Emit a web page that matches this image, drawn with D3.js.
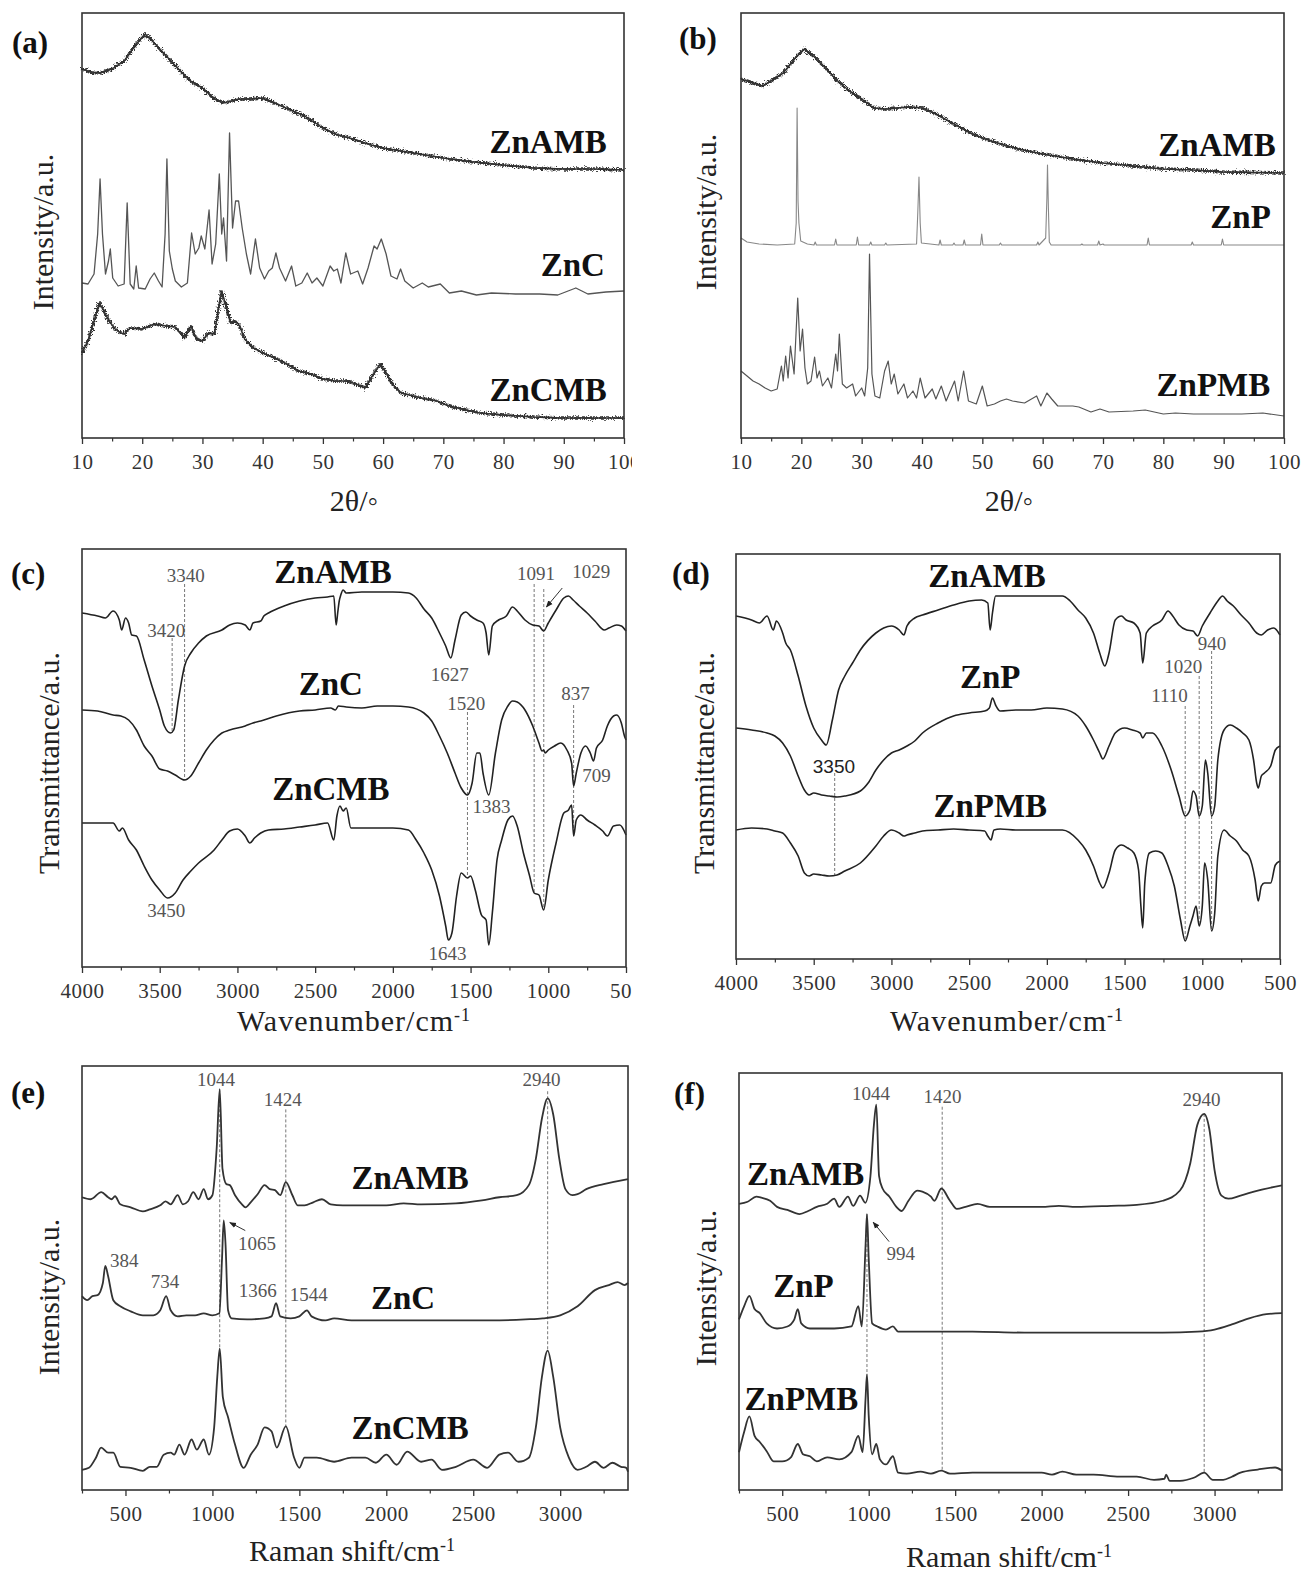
<!DOCTYPE html>
<html><head><meta charset="utf-8">
<script src="https://cdn.jsdelivr.net/npm/d3@7"></script>
<style>body{margin:0;background:#fff}</style>
</head><body>
<script>
// ================= DATA =================
// (a) XRD  [2theta, intensity a.u.]
const xrdA_ZnAMB = [[10,369],[11.5,366],[13,365],[15,369],[17,377],[19,394],[20.5,404],[22,395],[24,382],[26,369],[28,357],[30,350],[32,339],[33.5,335],[36,339],[38,339],[40,340],[42,335],[45,327],[47,322],[50,310],[52,304],[55,299],[58,293],[60,290],[65,285],[70,280],[75,276],[80,273],[85,270],[90,269],[95,269],[100,268]];
const xrdA_ZnC = [[10,155],[11,154],[12,164],[12.6,204],[13,259],[13.4,204],[13.9,164],[14.4,177],[14.7,189],[15.1,160],[16,152],[17,154],[17.5,235],[18,154],[18.6,149],[19,172],[19.4,150],[20.5,149],[21.3,159],[22,165],[22.7,157],[23.3,151],[23.8,204],[24.1,279],[24.5,187],[25,169],[25.5,157],[26.5,151],[27.5,155],[28.2,205],[28.8,184],[29.4,190],[29.8,202],[30.4,189],[31.1,228],[31.6,174],[32.2,194],[32.8,264],[33.2,204],[33.5,220],[34,177],[34.5,305],[35,210],[35.5,237],[36,237],[36.6,210],[37.3,184],[38,164],[38.8,199],[39.5,170],[40.3,159],[41,167],[41.6,170],[42.2,185],[42.8,170],[43.8,157],[44.8,172],[45.5,152],[46.5,155],[47.4,165],[48.2,155],[49,160],[50,152],[51.2,172],[51.8,167],[52.4,169],[53,155],[53.8,185],[54.6,164],[55.8,167],[56.6,154],[57.5,170],[58.5,192],[59,189],[59.7,199],[60.5,184],[61.3,162],[62.3,159],[62.9,169],[63.6,157],[65,150],[66.5,155],[67.5,151],[69.5,154],[71,145],[73,147],[75.5,143],[78,145],[82,144],[86,144],[89,143],[92,150],[94,144],[97,146],[100,147]];
const xrdA_ZnCMB = [[10,85],[11,97],[12,117],[12.9,135],[13.8,125],[14.5,117],[15.5,109],[16.5,105],[17,104],[18,110],[20,109],[22,114],[24,112],[25.5,111],[27,100],[28.1,112],[29,99],[30,97],[31,105],[32,104],[32.6,127],[33.2,147],[34,130],[34.7,115],[35.5,117],[36.2,112],[37,99],[38.5,90],[40,85],[42,80],[44,74],[46,67],[48,64],[50,59],[52,57],[54,57],[55.5,54],[57,50],[58.2,62],[59.5,74],[60.5,65],[61.5,54],[63,45],[65,42],[67,39],[69,37],[70.5,33],[73,29],[76,25],[80,23],[85,21],[90,20],[100,20]];
// (b) XRD
const xrdB_ZnAMB = [[10,359],[12,355],[13.5,352],[15,357],[17,365],[19,380],[20.5,389],[22,382],[24,370],[26,357],[28,347],[30,339],[32,330],[34,329],[36,330],[38,331],[40,330],[42,325],[45,315],[48,305],[50,300],[53,294],[56,289],[60,284],[65,279],[70,275],[75,272],[80,269],[85,268],[90,266],[100,265]];
const xrdB_ZnP = [[10,200],[11,196],[13,194],[16,193],[18.9,194],[19.15,215],[19.3,330],[19.45,237],[19.6,215],[19.9,197],[21,194],[22.1,193],[22.3,196],[22.5,193],[25.5,193],[25.7,199],[25.9,193],[29.1,193],[29.3,201],[29.5,193],[31.3,193],[31.5,196],[31.7,193],[33.8,193],[34,195],[34.2,193],[39.1,194],[39.3,225],[39.5,261],[39.7,215],[39.9,195],[42.8,193],[43,198],[43.2,193],[45.1,193],[45.3,195],[45.5,193],[46.8,193],[47,198],[47.2,193],[49.7,193],[49.9,204],[50.1,193],[52.8,193],[53,195],[53.2,193],[59,193],[59.2,196],[59.4,193],[60.5,200],[60.7,240],[60.8,273],[60.95,230],[61.1,196],[61.4,193],[66.3,193],[66.5,194],[66.7,193],[69.1,193],[69.3,197],[69.5,193],[70,194],[70.2,193],[77.3,193],[77.5,200],[77.7,193],[84.6,193],[84.8,196],[85,193],[89.6,193],[89.8,199],[90,193],[100,193]];
const xrdB_ZnPMB = [[10,67],[11,62],[12,57],[13,54],[14,50],[15,47],[16,49],[16.7,72],[17,57],[17.4,82],[17.8,60],[18.2,92],[18.8,64],[19.4,140],[19.8,87],[20.2,109],[20.6,70],[21,54],[21.6,57],[22.2,81],[22.6,60],[23,67],[23.5,52],[24.4,60],[25,50],[25.7,84],[26,67],[26.3,104],[26.8,54],[27.5,50],[28.5,54],[29,42],[30,50],[30.5,42],[31,70],[31.3,184],[31.7,64],[32.2,42],[33,40],[33.8,67],[34.4,77],[34.9,54],[35.4,64],[36,44],[37,54],[37.6,40],[38.5,47],[39.1,40],[39.7,60],[40.5,40],[41.7,49],[42.3,39],[43.2,52],[44,37],[45.4,57],[46,37],[46.9,67],[47.7,37],[49,34],[50,52],[50.8,32],[52,34],[53,37],[54,39],[55,37],[57,35],[59,42],[59.7,32],[60.7,45],[61.5,39],[62.5,32],[65,32],[66,31],[68,26],[69.5,29],[71,26],[75,27],[77,28],[80,24],[82,25],[85,24],[90,24],[93,24],[96.5,25],[100,22]];
// (c) FTIR [wavenumber, transmittance a.u.]
const ftirC_ZnAMB = [[4000,354],[3900,351],[3850,349],[3800,356],[3760,347],[3745,337],[3720,349],[3700,344],[3680,332],[3650,331],[3600,307],[3550,281],[3500,257],[3470,241],[3430,234],[3410,237],[3380,267],[3340,301],[3300,314],[3250,324],[3200,331],[3100,337],[3050,342],[3000,344],[2950,342],[2920,337],[2900,344],[2850,346],[2830,351],[2800,354],[2700,361],[2600,366],[2500,369],[2420,370],[2380,371],[2365,342],[2355,354],[2345,366],[2335,372],[2320,377],[2300,374],[2200,375],[2100,375],[2000,375],[1900,374],[1850,369],[1800,358],[1750,349],[1700,334],[1660,321],[1627,309],[1600,327],[1560,352],[1530,355],[1500,351],[1460,347],[1420,344],[1400,334],[1383,312],[1360,341],[1320,347],[1270,351],[1230,360],[1200,356],[1150,347],[1100,342],[1060,341],[1030,336],[1000,344],[950,357],[900,369],[870,371],[840,367],[800,361],[750,354],[700,346],[640,337],[610,339],[560,342],[530,341],[500,336]];
const ftirC_ZnC = [[4000,257],[3900,256],[3800,252],[3750,251],[3700,247],[3650,237],[3600,221],[3550,211],[3500,198],[3450,196],[3400,192],[3340,187],[3300,191],[3250,204],[3200,217],[3150,227],[3100,234],[3050,237],[2950,241],[2900,244],[2850,246],[2750,251],[2600,256],[2500,257],[2400,259],[2370,257],[2350,261],[2300,260],[2200,259],[2100,261],[2000,261],[1900,260],[1800,254],[1750,246],[1700,231],[1650,214],[1600,194],[1560,179],[1520,172],[1490,184],[1460,214],[1440,214],[1420,194],[1383,172],[1340,214],[1300,247],[1260,261],[1230,266],[1200,265],[1150,257],[1100,241],[1060,224],[1040,216],[1030,217],[1020,214],[1000,217],[960,221],[920,224],[880,217],[850,204],[837,181],[820,194],[790,214],[760,221],[730,214],[709,206],[690,219],[650,227],[620,241],[580,251],[560,252],[530,244],[510,231],[500,227]];
const ftirC_ZnCMB = [[4000,144],[3900,144],[3800,144],[3760,136],[3740,139],[3700,127],[3650,117],[3600,101],[3550,87],[3500,77],[3450,69],[3400,74],[3350,87],[3300,96],[3250,104],[3150,117],[3100,127],[3050,136],[3000,138],[2950,131],[2920,124],[2890,129],[2850,134],[2800,137],[2700,138],[2600,140],[2500,142],[2420,144],[2380,127],[2360,151],[2340,161],[2320,156],[2300,159],[2270,139],[2200,139],[2100,139],[2000,139],[1900,137],[1850,127],[1800,114],[1750,97],[1700,71],[1660,41],[1643,27],[1620,34],[1590,71],[1560,94],[1520,89],[1500,91],[1470,77],[1430,52],[1400,47],[1383,22],[1360,54],[1330,107],[1300,127],[1260,147],[1230,151],[1200,141],[1160,114],[1120,91],[1091,74],[1060,72],[1030,57],[1000,87],[950,124],[900,154],[870,157],[850,162],[837,131],[820,147],[790,152],[750,147],[700,142],[650,136],[620,131],[580,141],[540,142],[500,132]];
// (d) FTIR
const ftirD_ZnAMB = [[4000,343],[3900,339],[3850,336],[3800,343],[3760,329],[3740,338],[3700,326],[3680,316],[3650,309],[3600,283],[3550,253],[3500,231],[3450,219],[3420,214],[3380,239],[3340,269],[3300,283],[3250,296],[3200,309],[3100,326],[3050,331],[3000,333],[2950,329],[2920,324],[2900,333],[2850,341],[2800,344],[2700,349],[2600,354],[2500,358],[2420,359],[2380,356],[2365,329],[2350,346],[2330,363],[2300,363],[2200,363],[2100,363],[2000,363],[1900,363],[1850,358],[1800,349],[1750,341],[1700,326],[1660,306],[1627,293],[1600,306],[1560,339],[1520,343],[1490,339],[1440,336],[1400,326],[1383,296],[1360,326],[1320,333],[1260,339],[1220,348],[1190,343],[1150,334],[1100,329],[1060,328],[1030,323],[1000,333],[950,346],[900,358],[870,363],[840,358],[800,353],[750,344],[700,336],[650,326],[620,324],[580,329],[540,331],[500,324]];
const ftirD_ZnP = [[4000,231],[3900,229],[3800,226],[3750,223],[3700,216],[3650,203],[3600,183],[3560,169],[3530,164],[3500,166],[3450,164],[3400,163],[3350,162],[3300,163],[3200,168],[3150,176],[3100,189],[3050,199],[3000,206],[2950,209],[2900,213],[2850,218],[2800,226],[2700,236],[2600,243],[2500,246],[2400,248],[2370,251],[2350,261],[2330,254],[2300,248],[2200,249],[2100,249],[2000,251],[1900,250],[1800,243],[1750,233],[1700,219],[1660,206],[1640,200],[1600,213],[1560,226],[1500,231],[1450,229],[1400,226],[1383,221],[1360,226],[1320,226],[1260,213],[1200,189],[1150,163],[1110,143],[1080,149],[1060,168],[1040,163],[1020,143],[1000,153],[980,199],[965,186],[940,143],[920,153],[900,199],[860,229],[820,234],[780,231],[740,226],[700,219],[670,199],[650,176],[640,171],[620,183],[600,186],[560,193],[530,209],[500,213]];
const ftirD_ZnPMB = [[4000,129],[3900,131],[3800,130],[3750,128],[3700,126],[3650,116],[3600,103],[3560,86],[3530,83],[3500,85],[3450,84],[3400,83],[3350,84],[3300,88],[3200,96],[3100,113],[3050,123],[3000,129],[2950,126],[2920,123],[2900,124],[2850,126],[2800,128],[2700,129],[2600,130],[2500,129],[2400,128],[2380,123],[2360,119],[2340,129],[2300,130],[2200,129],[2100,129],[2000,129],[1900,129],[1800,119],[1750,109],[1700,93],[1660,76],[1640,71],[1600,86],[1560,109],[1520,114],[1480,111],[1440,106],[1410,89],[1395,53],[1383,31],[1370,76],[1340,106],[1300,108],[1260,106],[1220,93],[1180,73],[1140,39],[1110,18],[1080,33],[1060,43],[1040,53],[1020,33],[1000,53],[985,96],[965,79],[940,28],[920,46],[900,103],[860,129],[820,123],[780,118],[740,109],[700,103],[660,79],[640,58],[620,73],[600,76],[560,76],[530,94],[500,98]];
// (e) Raman [shift, intensity a.u.]
const ramE_ZnAMB = [[250,290],[300,288],[361,295],[400,290],[420,288],[440,291],[470,283],[530,280],[600,276],[640,278],[700,282],[730,286],[760,283],[800,292],[830,283],[860,286],[890,295],[920,288],[950,298],[975,288],[1000,292],[1025,340],[1042,397],[1058,318],[1080,303],[1100,302],[1130,292],[1170,283],[1190,280],[1220,285],[1260,293],[1300,302],[1330,298],[1360,297],[1390,292],[1422,305],[1460,292],[1490,282],[1530,282],[1580,285],[1630,288],[1680,283],[1750,282],[1850,282],[2000,282],[2100,284],[2200,283],[2400,284],[2550,287],[2650,290],[2750,292],[2820,302],[2860,328],[2895,368],[2928,388],[2960,372],[2995,328],[3030,298],[3070,292],[3100,293],[3150,298],[3250,303],[3390,308]];
const ramE_ZnC = [[250,192],[280,188],[310,192],[340,193],[370,205],[384,222],[400,212],[430,188],[470,182],[530,177],[600,173],[660,173],[700,178],[734,192],[760,178],[800,172],[850,173],[900,173],[950,175],[1000,173],[1040,175],[1055,228],[1065,267],[1075,245],[1090,178],[1110,170],[1200,169],[1300,170],[1340,172],[1366,185],[1390,172],[1450,170],[1500,172],[1544,178],[1570,172],[1650,168],[1700,170],[1800,168],[2000,168],[2200,168],[2400,168],[2600,168],[2800,169],[2900,170],[3000,173],[3100,182],[3200,198],[3280,203],[3330,206],[3370,203],[3390,205]];
const ramE_ZnCMB = [[250,20],[290,22],[330,32],[360,42],[400,37],[430,37],[470,23],[530,22],[600,19],[640,23],[680,23],[720,35],[760,37],[780,35],[810,45],[840,35],[880,50],[910,40],[950,50],[980,35],[1010,62],[1028,112],[1042,140],[1060,92],[1090,72],[1130,45],[1180,22],[1220,35],[1260,45],[1300,62],[1340,58],[1370,42],[1422,63],[1470,32],[1500,22],[1530,32],[1600,32],[1700,28],[1800,32],[1880,32],[1940,27],[2000,35],[2060,25],[2120,38],[2200,28],[2260,30],[2320,20],[2400,23],[2500,30],[2580,22],[2650,35],[2700,37],[2760,28],[2820,32],[2860,62],[2895,112],[2928,138],[2960,112],[3000,62],[3050,32],[3100,20],[3150,23],[3200,28],[3250,22],[3300,27],[3350,23],[3380,22],[3390,18]];
// (f) Raman
const ramF_ZnAMB = [[250,280],[300,282],[350,287],[380,286],[430,283],[470,277],[530,274],[600,270],[650,273],[700,277],[760,280],[800,285],[830,277],[880,287],[910,278],[950,288],[980,281],[1010,307],[1030,357],[1044,377],[1060,307],[1080,295],[1120,287],[1160,277],[1190,273],[1230,283],[1280,293],[1310,292],[1360,287],[1380,283],[1420,295],[1470,283],[1510,275],[1560,277],[1630,280],[1700,277],[1800,277],[1900,277],[2000,277],[2100,278],[2200,277],[2400,278],[2550,279],[2700,283],[2800,293],[2860,320],[2900,357],[2940,368],[2970,353],[3000,313],[3040,288],[3080,285],[3150,288],[3250,293],[3390,298]];
const ramF_ZnP = [[250,167],[280,180],[310,190],[340,177],[370,173],[410,163],[470,158],[530,160],[570,167],[590,177],[610,163],[660,158],[800,158],[900,160],[940,180],[960,160],[982,240],[990,270],[1000,227],[1020,163],[1050,160],[1100,157],[1140,160],[1170,155],[1300,155],[1600,155],[1900,154],[2200,154],[2500,154],[2700,154],[2900,155],[3000,157],[3100,162],[3200,168],[3300,172],[3390,173]];
const ramF_ZnPMB = [[250,37],[280,57],[310,72],[340,53],[370,47],[410,38],[450,28],[500,28],[550,32],[590,45],[620,35],[660,33],[700,28],[760,32],[830,30],[900,37],[940,53],[965,37],[982,90],[990,113],[1000,73],[1020,35],[1044,45],[1065,30],[1100,25],[1140,33],[1170,17],[1220,16],[1300,18],[1360,16],[1420,19],[1470,16],[1600,17],[1800,17],[2000,17],[2060,15],[2120,18],[2200,15],[2300,15],[2450,13],[2550,13],[2650,10],[2710,11],[2720,15],[2740,9],[2800,9],[2880,12],[2940,17],[2990,10],[3050,10],[3100,13],[3150,17],[3250,20],[3350,22],[3390,19]];

// tick values
const xrdMajor = [10,20,30,40,50,60,70,80,90,100];
const xrdMinor = [15,25,35,45,55,65,75,85,95];
const ftirMajor = [4000,3500,3000,2500,2000,1500,1000,500];
const ftirMinor = [3750,3250,2750,2250,1750,1250,750];
const ramMajor = [500,1000,1500,2000,2500,3000];
const ramMinor = [250,750,1250,1750,2250,2750,3250];

// annotations: [text, x, y]
const labA = [["ZnAMB",87.4,297],["ZnC",91.5,174],["ZnCMB",87.4,49]];
const labB = [["ZnAMB",88.9,294],["ZnP",92.8,222],["ZnPMB",88.3,54]];
const labC = [["ZnAMB",2385,396],["ZnC",2399,284],["ZnCMB",2399,179]];
const labD = [["ZnAMB",2385,384],["ZnP",2364,283],["ZnPMB",2364,154]];
const labE = [["ZnAMB",2137,310],["ZnC",2096,191],["ZnCMB",2137,62]];
const labF = [["ZnAMB",635,310],["ZnP",623,200],["ZnPMB",611,90]];
const peakC = [["3340",3332,392],["3420",3458,337],["1627",1634,293],["1091",1079,394],["1029",723,396],["1520",1527,264],["837",825,274],["1383",1366,161],["709",690,192],["3450",3458,57],["1643",1648,14]];
const peakD = [["940",937,316],["1020",1122,293],["1110",1211,264]];
const peakD_sans = [["3350",3370,193]];
const peakE = [["1044",1020,407],["1424",1405,387],["2940",2893,407],["1065",1256,244],["384",493,227],["734",728,207],["1366",1261,198],["1544",1554,194]];
const peakF = [["1044",1014,388],["1420",1427,385],["2940",2925,382],["994",1186,232]];
// dashed guide lines: [x, yTop, yBottom]
const guideC = [[3340,383,187],[3420,329,234],[1091,383,74],[1029,378,57],[1520,255,89],[837,262,131]];
const guideD = [[3365,186,83],[1110,253,18],[1020,283,33],[940,308,28]];
const guideE = [[1042,397,140],[1422,377,63],[2928,395,138]];
const guideF = [[990,270,113],[1425,375,18],[2940,368,17]];
// arrows: [x1,y1,x2,y2]
const arrowC = [[910,379,1012,360]];
const arrowE = [[1189,257,1100,265]];
const arrowF = [[1118,243,1026,262]];

// ================= DRAWING =================
const W = 1302, H = 1575;
const SERIF = '"Liberation Serif","Times New Roman",serif';
const svg = d3.select('body').append('svg').attr('width', W).attr('height', H)
  .style('font-family', SERIF);
svg.append('rect').attr('width', W).attr('height', H).attr('fill', '#fff');
const defs = svg.append('defs');
function fuzzFilter(id, scale, freq, seed) {
  const f = defs.append('filter').attr('id', id).attr('x', '-2%').attr('y', '-15%').attr('width', '104%').attr('height', '130%');
  f.append('feTurbulence').attr('type', 'fractalNoise').attr('baseFrequency', freq).attr('numOctaves', 2).attr('seed', seed).attr('result', 'n');
  f.append('feDisplacementMap').attr('in', 'SourceGraphic').attr('in2', 'n').attr('scale', scale).attr('xChannelSelector', 'R').attr('yChannelSelector', 'G');
}
fuzzFilter('fuzz', 8, '0.9 0.7', 4);
fuzzFilter('fuzz2', 8, '0.9 0.7', 11);
defs.append('marker').attr('id', 'arr').attr('viewBox', '0 0 10 10').attr('refX', 9).attr('refY', 5)
  .attr('markerWidth', 7).attr('markerHeight', 7).attr('orient', 'auto')
  .append('path').attr('d', 'M0,1 L10,5 L0,9 Z').attr('fill', '#222');
defs.append('clipPath').attr('id', 'leftclip').append('rect').attr('x', 0).attr('y', 0).attr('width', 632).attr('height', H);

function panel(p) {
  const root = svg.append('g').attr('clip-path', p.clip ? 'url(#leftclip)' : null);
  const x = d3.scaleLinear().domain(p.xdom).range([p.x0, p.x1]);
  const y = d3.scaleLinear().domain(p.ydom).range([p.y1, p.y0]);
  // major ticks
  const gM = root.append('g').attr('transform', `translate(0,${p.y1})`)
    .call(d3.axisBottom(x).tickValues(p.major).tickSize(6).tickFormat(d => d));
  gM.select('.domain').remove();
  gM.selectAll('.tick line').attr('stroke', '#333').attr('stroke-width', 1.3);
  gM.selectAll('.tick text').attr('y', 16).attr('font-size', 21).attr('fill', '#333')
    .attr('font-family', SERIF).attr('letter-spacing', 0.5);
  const gm = root.append('g').attr('transform', `translate(0,${p.y1})`)
    .call(d3.axisBottom(x).tickValues(p.minor).tickSize(3.5).tickFormat(''));
  gm.select('.domain').remove();
  gm.selectAll('.tick line').attr('stroke', '#333').attr('stroke-width', 1.2);
  // guides
  (p.guides || []).forEach(g => {
    root.append('line').attr('x1', x(g[0])).attr('x2', x(g[0])).attr('y1', y(g[1])).attr('y2', y(g[2]))
      .attr('stroke', '#777').attr('stroke-width', 1).attr('stroke-dasharray', '3,2');
  });
  // series
  p.series.forEach(s => {
    const line = d3.line().x(d => x(d[0])).y(d => y(d[1])).curve(s.curve || p.curve);
    const dstr = line(s.data);
    root.append('path').attr('d', dstr).attr('fill', 'none')
      .attr('stroke', s.color).attr('stroke-width', s.w).attr('stroke-linejoin', 'round');
    if (s.fuzz) {
      ['fuzz', 'fuzz2'].forEach(fid => {
        root.append('path').attr('d', dstr).attr('fill', 'none')
          .attr('stroke', s.color).attr('stroke-width', 1.7).attr('stroke-linejoin', 'round')
          .attr('filter', `url(#${fid})`);
      });
    }
  });
  // arrows
  (p.arrows || []).forEach(a => {
    root.append('line').attr('x1', x(a[0])).attr('y1', y(a[1])).attr('x2', x(a[2])).attr('y2', y(a[3]))
      .attr('stroke', '#333').attr('stroke-width', 1).attr('marker-end', 'url(#arr)');
  });
  // frame
  root.append('rect').attr('x', p.x0).attr('y', p.y0).attr('width', p.x1 - p.x0).attr('height', p.y1 - p.y0)
    .attr('fill', 'none').attr('stroke', '#333').attr('stroke-width', 1.6);
  // peak labels
  (p.peaks || []).forEach(t => {
    root.append('text').attr('x', x(t[1])).attr('y', y(t[2])).attr('dy', '0.35em').attr('text-anchor', 'middle')
      .attr('font-size', 19).attr('fill', '#555').text(t[0]);
  });
  (p.peaksSans || []).forEach(t => {
    root.append('text').attr('x', x(t[1])).attr('y', y(t[2])).attr('dy', '0.35em').attr('text-anchor', 'middle')
      .attr('font-size', 19).attr('fill', '#222').attr('font-family', '"Liberation Sans",Arial,sans-serif').text(t[0]);
  });
  // sample labels
  p.labels.forEach(t => {
    root.append('text').attr('x', x(t[1])).attr('y', y(t[2])).attr('dy', '0.35em').attr('text-anchor', 'middle')
      .attr('font-size', 33).attr('font-weight', 'bold').attr('fill', '#111').text(t[0]);
  });
  // panel letter
  root.append('text').attr('x', p.tag[1]).attr('y', p.tag[2]).attr('font-size', 31).attr('font-weight', 'bold')
    .attr('fill', '#111').text(p.tag[0]);
  // y title
  root.append('text').attr('transform', `translate(${p.yt[0]},${p.yt[1]}) rotate(-90)`).attr('text-anchor', 'middle')
    .attr('dy', '0.35em').attr('font-size', 30).attr('fill', '#222').text(p.ytitle);
  // x title
  const xt = root.append('text').attr('x', p.xt[0]).attr('y', p.xt[1]).attr('dy', '0.35em').attr('text-anchor', 'middle')
    .attr('font-size', 30).attr('fill', '#222').attr('letter-spacing', p.xls || 0);
  xt.append('tspan').text(p.xtitle);
  if (p.xsup) xt.append('tspan').attr('dy', '-0.55em').attr('font-size', 18).text(p.xsup);
}

const lin = d3.curveLinear, mono = d3.curveMonotoneX;

panel({ x0: 82, x1: 624, y0: 13, y1: 438, xdom: [10, 100], ydom: [0, 425], major: xrdMajor, minor: xrdMinor, clip: true, curve: lin,
  series: [{ data: xrdA_ZnAMB, color: '#333', w: 1.5, fuzz: true }, { data: xrdA_ZnC, color: '#555', w: 1.3 }, { data: xrdA_ZnCMB, color: '#333', w: 1.5, fuzz: true }],
  labels: labA, tag: ['(a)', 12, 53], yt: [42, 232], ytitle: 'Intensity/a.u.', xt: [354, 500], xtitle: '2θ/◦' });

panel({ x0: 741, x1: 1284, y0: 13, y1: 438, xdom: [10, 100], ydom: [0, 425], major: xrdMajor, minor: xrdMinor, curve: lin,
  series: [{ data: xrdB_ZnAMB, color: '#333', w: 1.5, fuzz: true }, { data: xrdB_ZnP, color: '#888', w: 1.1 }, { data: xrdB_ZnPMB, color: '#555', w: 1.2 }],
  labels: labB, tag: ['(b)', 679, 49], yt: [705, 212], ytitle: 'Intensity/a.u.', xt: [1009, 500], xtitle: '2θ/◦' });

panel({ x0: 82, x1: 626, y0: 549, y1: 967, xdom: [4000, 500], ydom: [0, 418], major: ftirMajor, minor: ftirMinor, clip: true, curve: mono,
  series: [{ data: ftirC_ZnAMB, color: '#222', w: 1.6 }, { data: ftirC_ZnC, color: '#222', w: 1.6 }, { data: ftirC_ZnCMB, color: '#222', w: 1.6 }],
  labels: labC, peaks: peakC, guides: guideC, arrows: arrowC,
  tag: ['(c)', 11, 584], yt: [48, 763], ytitle: 'Transmittance/a.u.', xt: [354, 1020], xtitle: 'Wavenumber/cm', xsup: '-1', xls: 1 });

panel({ x0: 736, x1: 1280, y0: 554, y1: 959, xdom: [4000, 500], ydom: [0, 405], major: ftirMajor, minor: ftirMinor, curve: mono,
  series: [{ data: ftirD_ZnAMB, color: '#222', w: 1.6 }, { data: ftirD_ZnP, color: '#222', w: 1.6 }, { data: ftirD_ZnPMB, color: '#222', w: 1.6 }],
  labels: labD, peaks: peakD, peaksSans: peakD_sans, guides: guideD,
  tag: ['(d)', 672, 584], yt: [703, 763], ytitle: 'Transmittance/a.u.', xt: [1007, 1020], xtitle: 'Wavenumber/cm', xsup: '-1', xls: 1 });

panel({ x0: 82, x1: 628, y0: 1066, y1: 1490, xdom: [250, 3390], ydom: [0, 420], major: ramMajor, minor: ramMinor, clip: true, curve: mono,
  series: [{ data: ramE_ZnAMB, color: '#333', w: 1.8 }, { data: ramE_ZnC, color: '#333', w: 1.8 }, { data: ramE_ZnCMB, color: '#333', w: 1.8 }],
  labels: labE, peaks: peakE, guides: guideE, arrows: arrowE,
  tag: ['(e)', 11, 1103], yt: [48, 1297], ytitle: 'Intensity/a.u.', xt: [352, 1550], xtitle: 'Raman shift/cm', xsup: '-1' });

panel({ x0: 739, x1: 1282, y0: 1073, y1: 1490, xdom: [250, 3390], ydom: [0, 408], major: ramMajor, minor: ramMinor, curve: mono,
  series: [{ data: ramF_ZnAMB, color: '#333', w: 1.8 }, { data: ramF_ZnP, color: '#333', w: 1.8 }, { data: ramF_ZnPMB, color: '#333', w: 1.8 }],
  labels: labF, peaks: peakF, guides: guideF, arrows: arrowF,
  tag: ['(f)', 674, 1104], yt: [705, 1288], ytitle: 'Intensity/a.u.', xt: [1009, 1556], xtitle: 'Raman shift/cm', xsup: '-1' });
</script>
</body></html>
